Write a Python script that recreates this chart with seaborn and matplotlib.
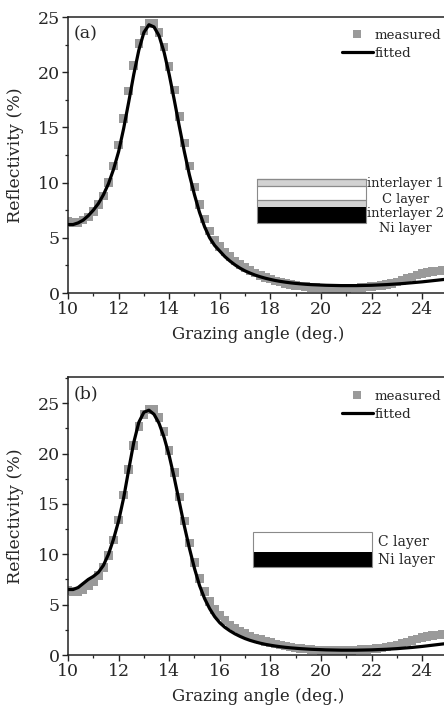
import numpy as np
import pandas as pd
import matplotlib
matplotlib.use("Agg")
import matplotlib.pyplot as plt
from matplotlib.patches import Rectangle
from matplotlib.ticker import MultipleLocator
from matplotlib.lines import Line2D
import seaborn as sns

# ---------------- data ----------------
angle = [round(10 + 0.2 * i, 1) for i in range(76)]  # 10.0 ... 25.0 deg

measured_a = [6.5, 6.4, 6.4, 6.6, 6.9, 7.4, 8.0, 8.8, 10.0, 11.5,
              13.4, 15.8, 18.3, 20.6, 22.6, 23.8, 24.4, 24.4, 23.6, 22.3,
              20.5, 18.4, 16.0, 13.6, 11.5, 9.6, 8.0, 6.7, 5.6, 4.8,
              4.2, 3.7, 3.3, 2.9, 2.6, 2.3, 2.05, 1.8, 1.6, 1.4,
              1.25, 1.1, 0.98, 0.88, 0.78, 0.7, 0.63, 0.57, 0.52, 0.48,
              0.45, 0.43, 0.42, 0.42, 0.42, 0.43, 0.45, 0.47, 0.5, 0.54,
              0.58, 0.63, 0.7, 0.78, 0.88, 1.0, 1.14, 1.3, 1.46, 1.62,
              1.76, 1.88, 1.96, 2.0, 2.02, 2.02]
fitted_a = [6.2, 6.2, 6.35, 6.6, 7.0, 7.5, 8.1, 8.9, 9.9, 11.2,
            12.8, 14.9, 17.3, 19.8, 22.0, 23.6, 24.3, 24.1, 23.3, 21.8,
            19.8, 17.5, 15.1, 12.8, 10.7, 8.9, 7.3, 6.0, 5.0, 4.3,
            3.8, 3.3, 2.9, 2.55, 2.25, 2.0, 1.8, 1.62, 1.47, 1.34,
            1.23, 1.13, 1.05, 0.98, 0.92, 0.87, 0.83, 0.79, 0.76, 0.74,
            0.72, 0.70, 0.69, 0.68, 0.67, 0.67, 0.67, 0.67, 0.68, 0.69,
            0.70, 0.72, 0.74, 0.76, 0.79, 0.82, 0.85, 0.89, 0.93, 0.97,
            1.01, 1.06, 1.11, 1.16, 1.21, 1.26]

measured_b = [6.4, 6.3, 6.3, 6.5, 6.9, 7.3, 7.9, 8.7, 9.9, 11.4,
              13.4, 15.9, 18.4, 20.8, 22.7, 23.9, 24.4, 24.4, 23.6, 22.2,
              20.3, 18.1, 15.7, 13.3, 11.1, 9.2, 7.6, 6.3, 5.3, 4.5,
              3.9, 3.4, 3.0, 2.7, 2.4, 2.15, 1.9, 1.7, 1.52, 1.36,
              1.22, 1.1, 0.98, 0.88, 0.79, 0.71, 0.64, 0.58, 0.53, 0.49,
              0.46, 0.44, 0.43, 0.43, 0.43, 0.44, 0.46, 0.49, 0.52, 0.56,
              0.6, 0.65, 0.71, 0.79, 0.88, 1.0, 1.13, 1.28, 1.44, 1.6,
              1.74, 1.86, 1.95, 2.0, 2.02, 2.02]
fitted_b = [6.5, 6.5, 6.7, 7.1, 7.5, 7.8, 8.2, 8.9, 10.0, 11.5,
            13.3, 15.6, 18.4, 21.1, 23.1, 24.1, 24.3, 23.9, 23.0, 21.6,
            19.8, 17.6, 15.2, 12.8, 10.6, 8.6, 6.9, 5.6, 4.6, 3.8,
            3.2, 2.75, 2.4, 2.1, 1.85, 1.63, 1.45, 1.3, 1.17, 1.06,
            0.97, 0.89, 0.82, 0.76, 0.71, 0.67, 0.63, 0.6, 0.57, 0.55,
            0.53, 0.51, 0.5, 0.49, 0.48, 0.48, 0.48, 0.48, 0.49, 0.5,
            0.51, 0.53, 0.55, 0.57, 0.6, 0.63, 0.67, 0.71, 0.75, 0.8,
            0.85, 0.91, 0.97, 1.03, 1.09, 1.15]

x_ticks = [10, 12, 14, 16, 18, 20, 22, 24]
y_ticks = [0, 5, 10, 15, 20, 25]
panel_labels = ["(a)", "(b)"]
layers_a = ["interlayer 1", "C layer", "interlayer 2", "Ni layer"]
layers_b = ["C layer", "Ni layer"]

# ---------------- style ----------------
sns.set_theme(style="ticks")
plt.rcParams["font.family"] = ["DejaVu Serif"]
plt.rcParams["mathtext.fontset"] = "dejavuserif"

W, H = 444, 716
fig = plt.figure(figsize=(W / 100, H / 100), dpi=100)

def fx(px):
    return px / W

def fy(py):
    return 1 - py / H

def make_axes(top_px, bot_px):
    left, right = 68, 447.4
    return fig.add_axes([fx(left), fy(bot_px), (right - left) / W, (bot_px - top_px) / H])

ax_a = make_axes(17, 293)
ax_b = make_axes(377, 655)

GRAY = "#9a9a9a"

def draw_panel(ax, meas, fit, ylim, label, leg_top_px):
    df = pd.DataFrame({"angle": angle, "measured": meas, "fitted": fit})
    sns.scatterplot(data=df, x="angle", y="measured", ax=ax, marker="s",
                    s=38, color=GRAY, edgecolor="none", linewidth=0, zorder=2)
    sns.lineplot(data=df, x="angle", y="fitted", ax=ax, color="black",
                 linewidth=2.3, zorder=3)
    ax.set_xlim(10, 25)
    ax.set_ylim(*ylim)
    ax.set_xticks(x_ticks)
    ax.set_yticks(y_ticks)
    ax.xaxis.set_minor_locator(MultipleLocator(1))
    ax.yaxis.set_minor_locator(MultipleLocator(2.5))
    ax.tick_params(axis="both", which="major", direction="out", length=4,
                   width=1.0, labelsize=12.5, pad=2, color="#222222")
    ax.tick_params(axis="both", which="minor", direction="out", length=2.5,
                   width=0.9, color="#222222")
    for sp in ["left", "bottom", "top"]:
        ax.spines[sp].set_linewidth(1.1)
        ax.spines[sp].set_color("#222222")
    ax.spines["right"].set_visible(False)
    ax.set_xlabel("Grazing angle (deg.)", fontsize=12)
    ax.set_ylabel("Reflectivity (%)", fontsize=12.5)
    ax.yaxis.set_label_coords(-0.115, 0.5)
    ax.xaxis.set_label_coords(0.5, -0.118)
    ax.text(0.015, 0.94, label, transform=ax.transAxes, fontsize=12.5,
            va="center", ha="left")
    handles = [Line2D([], [], marker="s", linestyle="none", color=GRAY,
                      markersize=6, markeredgewidth=0),
               Line2D([], [], color="black", linewidth=2.3)]
    ax.legend(handles, ["measured", "fitted"], loc="upper left",
              bbox_to_anchor=(fx(342), fy(leg_top_px)),
              bbox_transform=fig.transFigure, frameon=False, fontsize=9.6,
              handlelength=2.3, handletextpad=0.15, labelspacing=0.35,
              borderpad=0, borderaxespad=0)

draw_panel(ax_a, measured_a, fitted_a, (0, 25), panel_labels[0], 29)
draw_panel(ax_b, measured_b, fitted_b, (0, 27.6), panel_labels[1], 390)

# ---------------- layer insets ----------------
def rect(x0, y0, x1, y1, fc, ec="none", lw=0.0):
    fig.add_artist(Rectangle((fx(x0), fy(y1)), fx(x1) - fx(x0), fy(y0) - fy(y1),
                             facecolor=fc, edgecolor=ec, linewidth=lw,
                             transform=fig.transFigure))

# panel (a) stack
rect(257, 179, 366, 186, "#d2d2d2")
rect(257, 186, 366, 200, "white")
rect(257, 200, 366, 207, "#d2d2d2")
rect(257, 207, 366, 223, "black")
for yy in (179, 186, 200):
    fig.add_artist(Line2D([fx(257), fx(366)], [fy(yy), fy(yy)], color="#8a8a8a",
                          linewidth=0.9, transform=fig.transFigure))
rect(257, 179, 366, 223, "none", ec="#8a8a8a", lw=0.8)
for txt, yy in zip(layers_a, (184, 199, 214, 229)):
    fig.text(fx(405.5), fy(yy), txt, ha="center", va="center", fontsize=9.4)

# panel (b) stack
rect(253, 532, 372, 552, "white")
rect(253, 552, 372, 567, "black")
rect(253, 532, 372, 567, "none", ec="#8a8a8a", lw=0.8)
for txt, yy in zip(layers_b, (542, 560)):
    fig.text(fx(378), fy(yy), txt, ha="left", va="center", fontsize=10)

fig.savefig("out.png", dpi=100)
